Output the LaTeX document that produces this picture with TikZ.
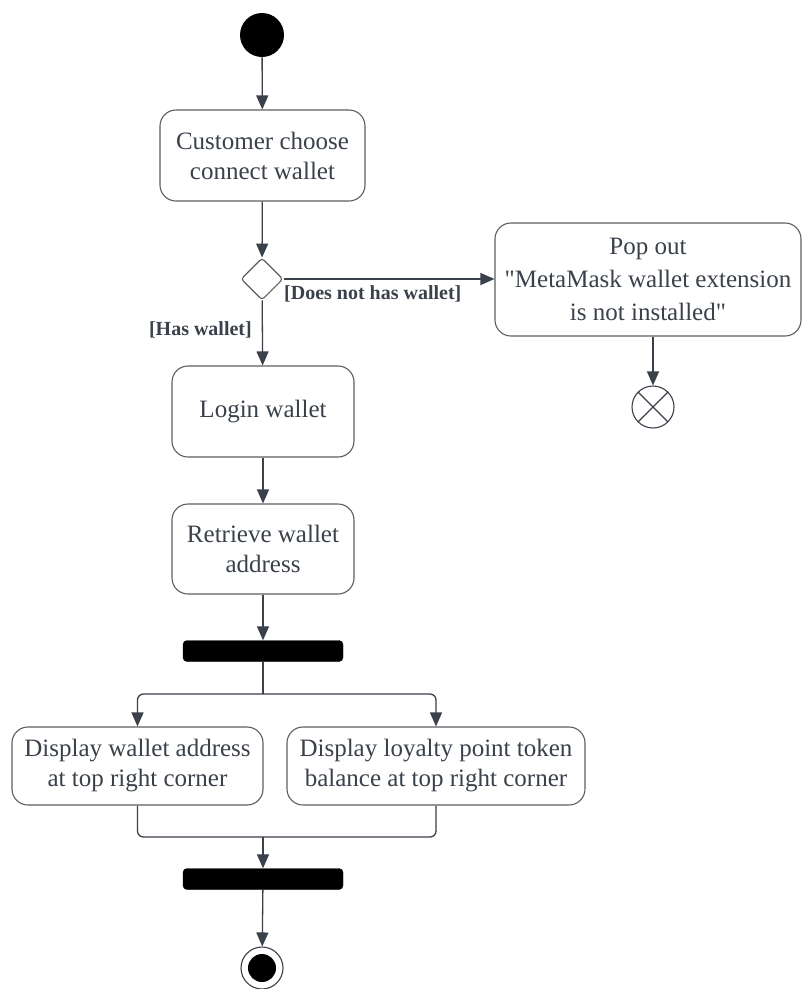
\documentclass[tikz,border=0pt]{standalone}
\usepackage{fontspec}
\setmainfont{Liberation Serif}
% family without TeX ligature mapping, for straight double quotes
\newfontfamily\rawserif{Liberation Serif}
\usetikzlibrary{arrows.meta,shapes.geometric}
\definecolor{ink}{HTML}{3A414A}
\definecolor{edge}{HTML}{5E5E5E}
\newcommand{\dq}{{\rawserif"}}
\begin{document}
\begin{tikzpicture}[x=1pt,y=-1pt,
  act/.style={draw=edge, line width=1.1pt, rounded corners=16pt, fill=white,
    text=ink, align=center, font=\fontsize{25}{30}\selectfont, inner sep=0pt},
  link/.style={draw=ink, line width=1.3pt},
  flow/.style={link, -{Triangle[length=14pt,width=12pt]}},
  guard/.style={text=ink, font=\bfseries\fontsize{20}{22}\selectfont, inner sep=0pt},
  bar/.style={fill=black, draw=black, rounded corners=4pt, minimum width=160pt,
    minimum height=21pt, inner sep=0pt},
]
\useasboundingbox (0,0) rectangle (803,989);

% initial node
\node[circle, fill=black, minimum size=44pt, inner sep=0pt] (start) at (262,35) {};

% actions
\node[act, minimum width=205pt, minimum height=91pt] (choose) at (262.5,155.5)
  {Customer choose\\connect wallet};
\node[diamond, draw=edge, line width=1.1pt, fill=white, minimum width=42pt,
  minimum height=42pt, inner sep=0pt, rounded corners=3pt] (dec) at (262,279) {};
\node[act, minimum width=306pt, minimum height=113pt,
  font=\fontsize{25}{33}\selectfont] (pop) at (648,279.5)
  {Pop out\\\dq MetaMask wallet extension\\is not installed\dq};
\node[act, minimum width=182pt, minimum height=91pt] (login) at (263,411.5)
  {Login wallet};
\node[act, minimum width=182pt, minimum height=90pt] (retr) at (263,549)
  {Retrieve wallet\\address};
\node[bar] (fork) at (263,651) {};
\node[act, minimum width=251pt, minimum height=78pt] (dispA) at (137.5,766)
  {Display wallet address\\at top right corner};
\node[act, minimum width=298pt, minimum height=78pt] (dispB) at (436,766)
  {Display loyalty point token\\balance at top right corner};
\node[bar] (join) at (263,879) {};

% final nodes
\node[circle, draw=ink, line width=1.1pt, minimum size=42pt, inner sep=0pt] (final) at (262,968) {};
\fill[black] (final.center) circle (14pt);
\node[circle, draw=ink, line width=1.1pt, minimum size=42pt, inner sep=0pt] (cancel) at (653,407) {};
\draw[ink, line width=1.1pt] (cancel.north west) -- (cancel.south east)
  (cancel.north east) -- (cancel.south west);

% control flow
\draw[flow] (start) -- (choose);
\draw[flow] (choose) -- (dec);
\draw[flow] (dec.east) -- (dec.east -| pop.west);
\draw[flow] (dec) -- (login);
\draw[flow] (login) -- (retr);
\draw[flow] (retr) -- (fork);
\draw[flow] (pop.south -| cancel) -- (cancel);

\node[guard, anchor=north west] (gno) at (284,285) {[Does not has wallet]};
\node[guard, anchor=north east] (gyes) at (252,321) {[Has wallet]};

% fork into parallel actions
\coordinate (split) at (263,694);
\draw[link, rounded corners=6pt] (fork.south) -- (split);
\draw[flow, rounded corners=6pt] (split) -| (dispA.north);
\draw[flow, rounded corners=6pt] (split) -| (dispB.north);

% join
\coordinate (merge) at (263,837);
\draw[link, rounded corners=6pt] (dispA.south) |- (merge);
\draw[link, rounded corners=6pt] (dispB.south) |- (merge);
\draw[flow] (merge) -- (join);
\draw[flow] (join) -- (final);
\end{tikzpicture}
\end{document}
